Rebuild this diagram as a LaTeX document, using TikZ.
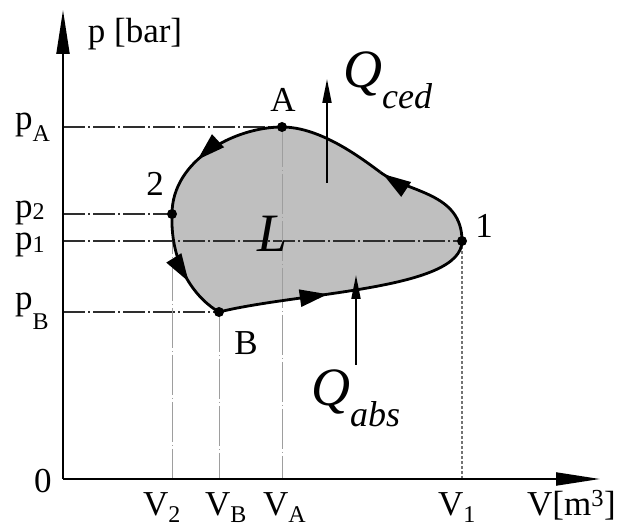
\documentclass[tikz,border=0pt]{standalone}
\usepackage{fontspec}
\setmainfont{Liberation Serif}
\usetikzlibrary{arrows.meta, decorations.markings}
\definecolor{loopgray}{gray}{0.75}
\definecolor{guidegray}{gray}{0.62}
\definecolor{leveldk}{gray}{0.18}
\newcommand{\idx}[2][-6pt]{\raisebox{#1}{\fontsize{24}{24}\selectfont #2}}
\newcommand{\qidx}[2][-21pt]{\raisebox{#1}{\fontsize{36}{36}\selectfont\itshape #2}}
\tikzset{
  axlab/.style    = {font=\fontsize{35}{40}\selectfont, inner sep=0pt},
  qlab/.style     = {font=\fontsize{54}{60}\selectfont\itshape, inner sep=0pt},
  axisline/.style = {line width=2pt, -{Triangle[length=44pt, width=13pt]}},
  level/.style    = {draw=leveldk, line width=1.1pt,
                     dash pattern=on 22pt off 3pt on 2pt off 3pt},
  guide/.style    = {draw=guidegray, line width=0.9pt,
                     dash pattern=on 40pt off 3pt on 1pt off 3pt},
  guidedot/.style = {draw=black!55, line width=1.3pt,
                     dash pattern=on 3pt off 2pt},
  loopline/.style = {line width=2.8pt},
  midarrow/.style = {postaction={decorate}, decoration={markings,
                     mark=at position #1 with {\arrow{Triangle[length=28pt, width=17pt]}}}},
  statept/.style  = {circle, fill=black, minimum size=10pt, inner sep=0pt},
  heatarrow/.style= {line width=2pt, -{Triangle[length=24pt, width=9pt]}},
}

\begin{document}
\begin{tikzpicture}[x=1pt, y=-1pt, line join=round]
  \useasboundingbox (0,0) rectangle (619,526);
  % axes and state points
  \coordinate (O) at (63,479);
  \coordinate (ytip) at (63,10);
  \coordinate (xtip) at (600,479);
  \coordinate (A) at (282,127);
  \coordinate (P2) at (172,214);
  \coordinate (B) at (219,312);
  \coordinate (P1) at (462,241);
  \coordinate (M) at (380,172);
  % the cycle area
  \fill[loopgray] (A) .. controls (235,127) and (172,160) .. (P2)
    .. controls (170,268) and (198,300) .. (B)
    .. controls (300,292) and (462,290) .. (P1)
    .. controls (462,192) and (408,193) .. (M)
    .. controls (356,154) and (318,127) .. (A) -- cycle;
  % reading lines
  \draw[level] (O |- A) -- (A);
  \draw[level] (O |- P2) -- (P2);
  \draw[level] (O |- P1) -- (P1);
  \draw[level] (O |- B) -- (B);
  \draw[guide] (P2) -- (P2 |- O);
  \draw[guide] (B) -- (B |- O);
  \draw[guide] (A) -- (A |- O);
  \draw[guidedot] (P1) -- (P1 |- O);
  \draw[axisline] (O) -- (ytip);
  \draw[axisline] (O) -- (xtip);
  % cycle A-2-B-1
  \draw[loopline, midarrow=0.6] (A) .. controls (235,127) and (172,160) .. (P2);
  \draw[loopline, midarrow=0.62] (P2) .. controls (170,268) and (198,300) .. (B);
  \draw[loopline, midarrow=0.42] (B) .. controls (300,292) and (462,290) .. (P1);
  \draw[loopline, midarrow=0.97] (P1) .. controls (462,192) and (408,193) .. (M);
  \draw[loopline] (M) .. controls (356,154) and (318,127) .. (A);
  \foreach \pt in {A,P2,B,P1}{\node[statept] at (\pt) {};}
  % heat
  \coordinate (cedfoot) at (327,183);
  \coordinate (cedtip) at (327,79);
  \coordinate (absfoot) at (356,365);
  \coordinate (abstip) at (356,275);
  \draw[heatarrow] (cedfoot) -- (cedtip);
  \draw[heatarrow] (absfoot) -- (abstip);
  \node[qlab, anchor=base west] (lblQced) at (343,88) {Q\qidx{ced}};
  \node[qlab, anchor=base west] (lblQabs) at (311,406) {Q\qidx{abs}};
  \node[font=\fontsize{54}{60}\selectfont\itshape, inner sep=0pt, anchor=base]
    (lblL) at (273,252) {L};
  % labels
  \node[axlab, anchor=base] (lblp) at (135,43) {p [bar]};
  \node[axlab, anchor=base west] (lblpA) at (15,130) {p\idx[-12pt]{A}};
  \node[axlab, anchor=base west] (lblp2) at (15,218) {p\idx[-2pt]{2}};
  \node[axlab, anchor=base west] (lblp1) at (15,250) {p\idx[-3pt]{1}};
  \node[axlab, anchor=base west] (lblpB) at (15,310) {p\idx[-20pt]{B}};
  \node[axlab, anchor=base] (lblA) at (283,112) {A};
  \node[axlab, anchor=base] (lbl2) at (155,196) {2};
  \node[axlab, anchor=base] (lbl1) at (484,238) {1};
  \node[axlab, anchor=base] (lblB) at (246,355) {B};
  \node[axlab, anchor=base] (lbl0) at (43,493) {0};
  \node[axlab, anchor=base west] (lblV2) at (143,516) {V\idx{2}};
  \node[axlab, anchor=base west] (lblVB) at (205,516) {V\idx{B}};
  \node[axlab, anchor=base west] (lblVA) at (263,516) {V\idx{A}};
  \node[axlab, anchor=base west] (lblV1) at (438,516) {V\idx{1}};
  \node[axlab, anchor=base west] (lblV) at (527,516) {V[m\textsuperscript{3}]};
\end{tikzpicture}
\end{document}
